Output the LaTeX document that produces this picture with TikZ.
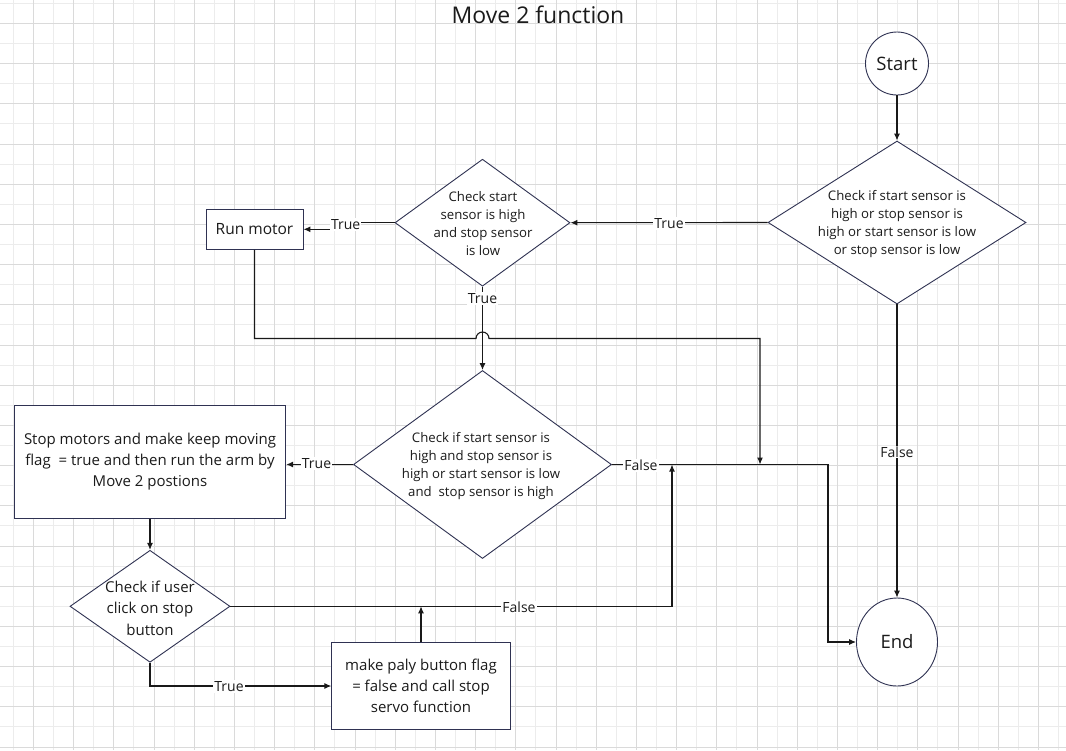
\documentclass[tikz,border=0pt]{standalone}
\usepackage{fontspec}
\setmainfont{Open Sans}
\usetikzlibrary{arrows.meta,shapes.geometric}
\definecolor{gridmajor}{RGB}{218,218,218}
\definecolor{gridminor}{RGB}{236,236,236}
\definecolor{shapeline}{RGB}{47,50,82}
\definecolor{connclr}{RGB}{25,25,25}
\definecolor{txt}{RGB}{27,27,27}
\begin{document}
\begin{tikzpicture}[x=1pt,y=-1pt,
  shapebox/.style={draw=shapeline, line width=0.9pt, fill=white, rectangle, inner sep=0pt, align=center, text=txt},
  dia/.style={draw=shapeline, line width=0.9pt, fill=white, diamond, inner sep=0pt},
  term/.style={draw=shapeline, line width=0.9pt, fill=white, ellipse, inner sep=0pt, text=txt, font=\fontsize{18.5}{22}\selectfont},
  dtext/.style={align=center, text=txt, font=\fontsize{13.2}{18}\selectfont, inner sep=0pt},
  btext/.style={font=\fontsize{15}{21}\selectfont},
  lab/.style={fill=white, text=txt, font=\fontsize{14}{16}\selectfont, inner sep=1pt},
  conn/.style={draw=connclr, line width=1.1pt},
  arr/.style={conn, -{Latex[length=7pt,width=6pt]}},
]
\useasboundingbox (0,0) rectangle (1066,750);
\fill[white] (0,0) rectangle (1066,750);
% grid
\foreach \k in {0,...,26} {
  \pgfmathsetmacro\gx{13.2+40.2*\k}
  \draw[gridminor, line width=0.8pt] (\gx,0) -- (\gx,750);
}
\foreach \k in {0,...,18} {
  \pgfmathsetmacro\gy{3.2+40.2*\k}
  \draw[gridminor, line width=0.8pt] (0,\gy) -- (1066,\gy);
}
\foreach \k in {0,...,25} {
  \pgfmathsetmacro\gx{33.3+40.2*\k}
  \draw[gridmajor, line width=0.8pt] (\gx,0) -- (\gx,750);
}
\foreach \k in {0,...,18} {
  \pgfmathsetmacro\gy{23.3+40.2*\k}
  \draw[gridmajor, line width=0.8pt] (0,\gy) -- (1066,\gy);
}

% title
\node[anchor=base, text=txt, font=\fontsize{23}{26}\selectfont, inner sep=0pt] (title) at (538,23.3) {Move 2 function};

% nodes
\node[term, minimum width=63pt, minimum height=63pt] (start) at (897,63.5) {Start};
\node[term, minimum width=81pt, minimum height=88pt] (end) at (897,642) {End};

\node[dia, minimum width=258pt, minimum height=163pt] (d1) at (897,222.5) {};
\node[dtext] (d1t) at (897,224) {Check if start sensor is\\high or stop sensor is\\high or start sensor is low\\or stop sensor is low};

\node[dia, minimum width=175pt, minimum height=127pt] (d2) at (482.5,222.7) {};
\node[dtext] (d2t) at (483,224) {Check start\\sensor is high\\and stop sensor\\is low};

\node[shapebox, minimum width=97pt, minimum height=40pt, font=\fontsize{15.5}{19}\selectfont] (run) at (254.5,229.3) {Run motor};

\node[dia, minimum width=258pt, minimum height=188pt] (d3) at (482.5,464.5) {};
\node[dtext] (d3t) at (481,466) {Check if start sensor is\\high and stop sensor is\\high or start sensor is low\\and\ \ stop sensor is high};

\node[shapebox, btext, minimum width=271.5pt, minimum height=112.7pt] (stop) at (150,461.7) {Stop motors and make keep moving\\flag\ \ = true and then run the arm by\\Move 2 postions};

\node[dia, minimum width=160pt, minimum height=112pt] (d4) at (150,606.3) {};
\node[dtext, font=\fontsize{15}{21.5}\selectfont] (d4t) at (150,608) {Check if user\\click on stop\\button};

\node[shapebox, btext, minimum width=178.5pt, minimum height=86.5pt] (make) at (421,686) {make paly button flag\\= false and call stop\\servo function};

\coordinate (j1) at (760,464.5);
\coordinate (j2) at (672,464.5);
\coordinate (j3) at (421,606.3);

% connectors
\draw[arr] (start) -- (d1);
\draw[arr] (d1.west) -- (d2.east);
\node[lab] (l1) at (669,223.5) {True};

\draw[arr] (d2.west) -- ++(-50,0) |- (run.east);
\node[lab] (l2) at (345.7,224.5) {True};

\draw[arr] (d2.south) -- (d3.north);
\node[lab] (l3) at (482.5,298.5) {True};

\draw[arr] (run.south) |- (476,338.5) arc[start angle=180, end angle=360, radius=6.5] -| (j1);

\draw[arr] (d1.south) -- (end.north);
\node[lab] (l4) at (897,452) {False};

\draw[arr] (d3.west) -- (d3.west -| stop.east);
\node[lab] (l5) at (316.5,463.5) {True};

\draw[arr] (d3.east) -- ++(216,0) |- (end.west);
\node[lab] (l6) at (641,465.5) {False};

\draw[arr] (stop) -- (d4);

\draw[arr] (d4.east) -| (j2);
\node[lab] (l7) at (519,607) {False};

\draw[arr] (d4.south) |- (make.west);
\node[lab] (l8) at (229,686.5) {True};

\draw[arr] (make.north) -- (j3);
\end{tikzpicture}
\end{document}
